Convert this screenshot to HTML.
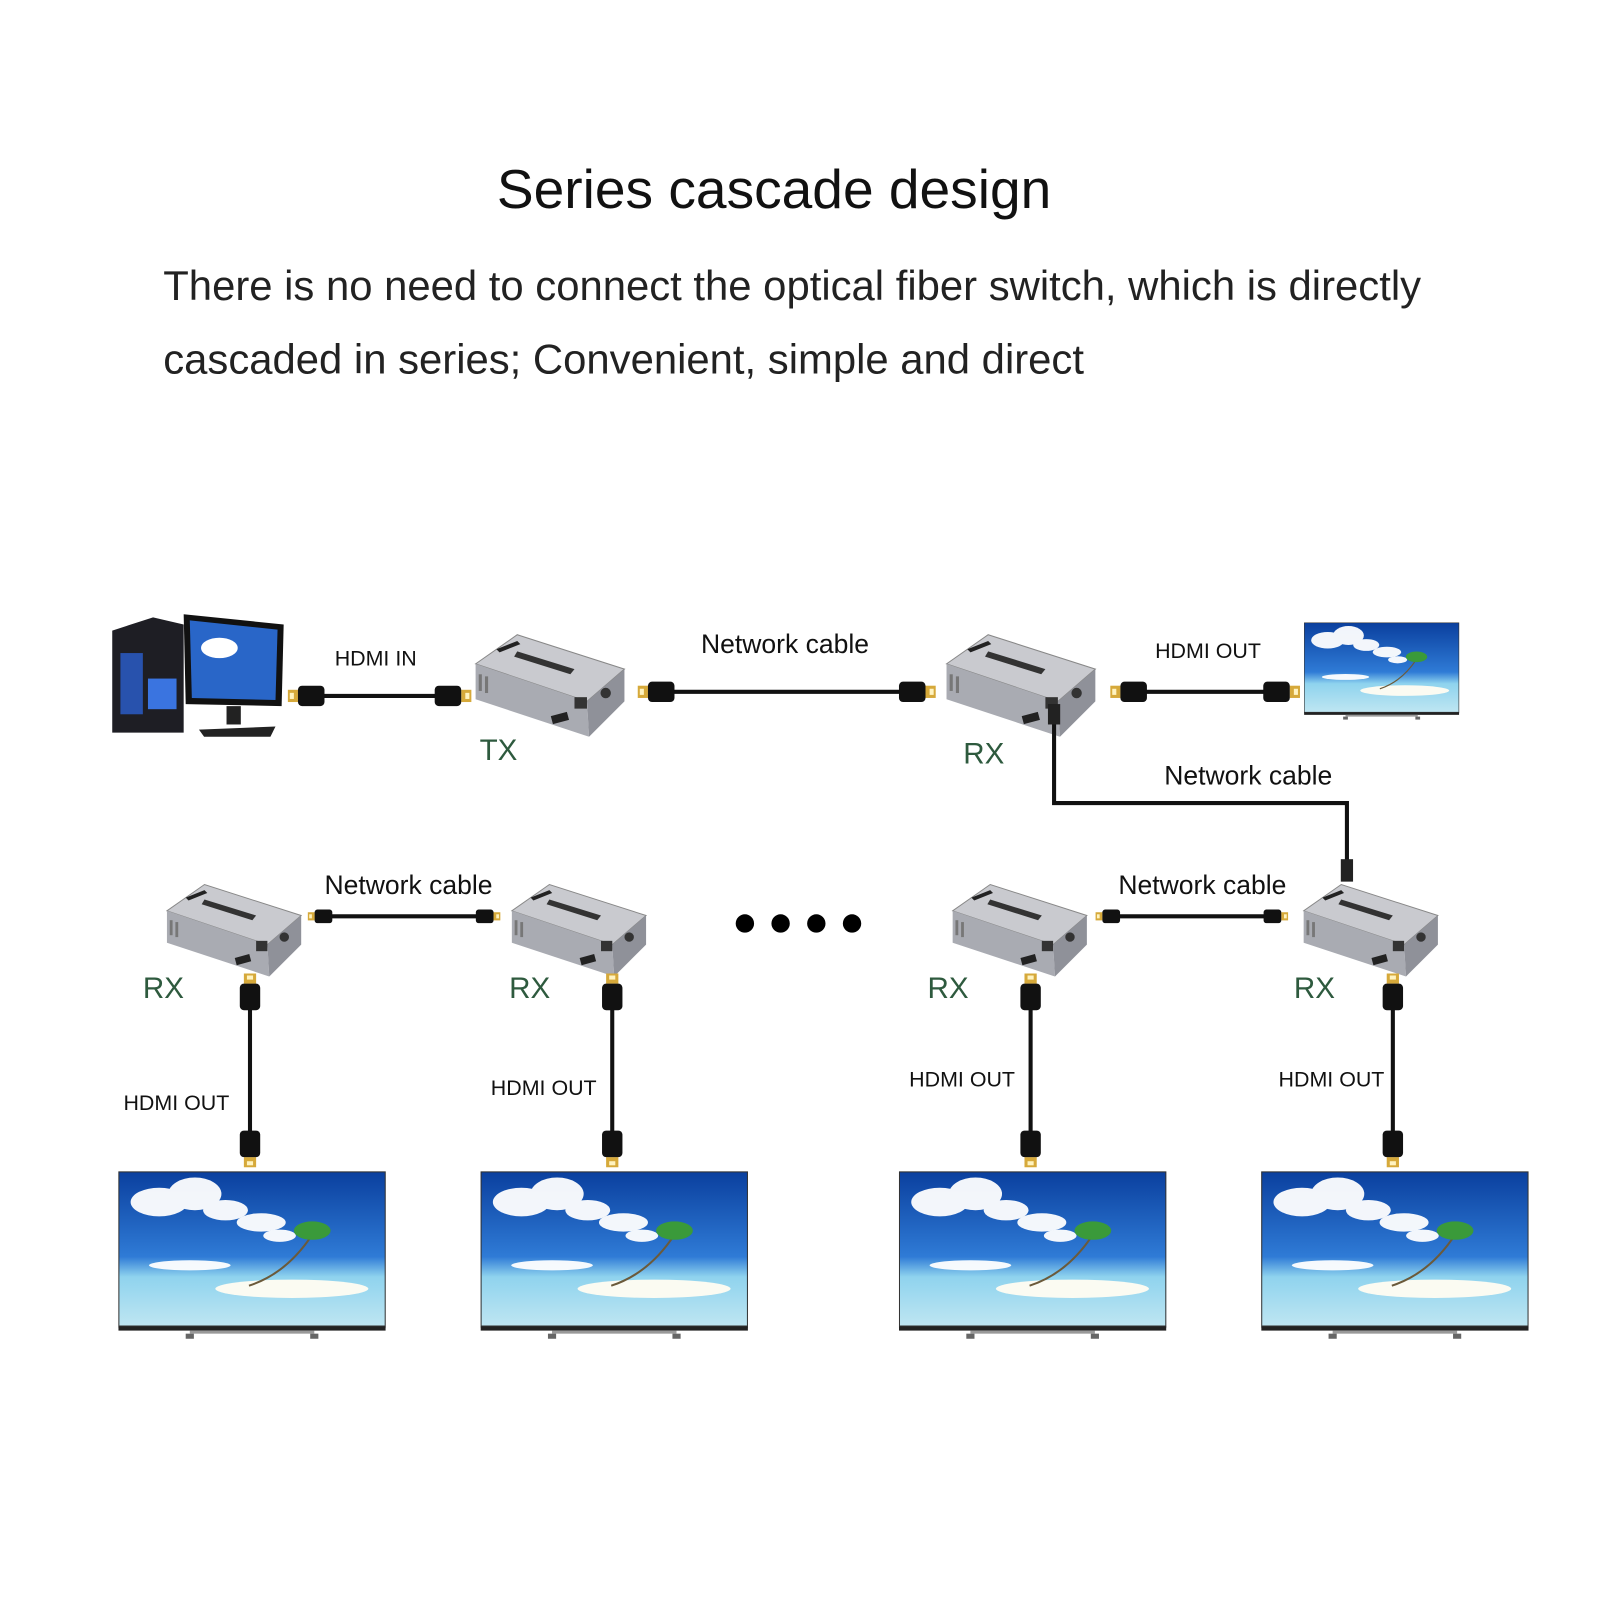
<!DOCTYPE html>
<html><head><meta charset="utf-8"><style>
html,body{margin:0;padding:0;background:#fff;}
svg{display:block;}
text{font-family:"Liberation Sans",sans-serif;}
</style></head><body>
<svg width="1600" height="1600" viewBox="0 0 1600 1600" xmlns="http://www.w3.org/2000/svg">
<defs>
<linearGradient id="sky" x1="0" y1="0" x2="0" y2="1">
<stop offset="0" stop-color="#0a3f9e"/><stop offset="0.55" stop-color="#2f7bd6"/><stop offset="0.68" stop-color="#8fd3ee"/><stop offset="1" stop-color="#bfe6f2"/>
</linearGradient>
<symbol id="tv" viewBox="0 0 262 167">
<rect x="0" y="0" width="262" height="152" fill="url(#sky)" stroke="#333" stroke-width="2"/>
<g fill="#fff" opacity="0.95">
<ellipse cx="40" cy="30" rx="28" ry="14"/><ellipse cx="75" cy="22" rx="26" ry="16"/><ellipse cx="105" cy="38" rx="22" ry="10"/><ellipse cx="140" cy="50" rx="24" ry="9"/><ellipse cx="158" cy="63" rx="16" ry="6"/><ellipse cx="70" cy="92" rx="40" ry="5"/>
</g>
<ellipse cx="170" cy="115" rx="75" ry="9" fill="#fbfbf2"/>
<path d="M128 112 Q165 100 190 62" stroke="#6b5a3a" stroke-width="2" fill="none"/>
<ellipse cx="190" cy="58" rx="18" ry="9" fill="#3a9a3a"/>
<rect x="0" y="152" width="262" height="4" fill="#222"/>
<rect x="70" y="156" width="122" height="3" fill="#999"/>
<rect x="66" y="159" width="8" height="5" fill="#666"/><rect x="188" y="159" width="8" height="5" fill="#666"/>
</symbol>
<symbol id="box" viewBox="0 0 150 100">
<polygon points="5,30 45,2 148,35 112,66" fill="#c9cacf" stroke="#888" stroke-width="1"/>
<polygon points="5,30 112,66 114,100 5,64" fill="#a9abb2"/>
<polygon points="112,66 148,35 148,66 114,100" fill="#8f9199"/>
<polygon points="45,18 100,35 96,40 42,23" fill="#333"/>
<polygon points="25,16 45,8 48,11 28,19" fill="#222"/>
<rect x="78" y="78" width="16" height="8" fill="#222" transform="rotate(-15 86 82)"/>
<rect x="100" y="62" width="12" height="11" fill="#333"/>
<circle cx="130" cy="58" r="5" fill="#333"/>
<rect x="8" y="40" width="3" height="16" fill="#777"/><rect x="14" y="42" width="3" height="16" fill="#777"/>
</symbol>
<symbol id="hdmi" viewBox="0 0 40 24">
<rect x="0" y="6" width="10" height="12" fill="#d6a93a"/><rect x="2" y="9" width="4" height="6" fill="#fff3c0"/>
<rect x="10" y="2" width="26" height="20" rx="4" fill="#111"/>
</symbol>
</defs>
<g transform="scale(1.0204)">
<text x="487" y="204" font-size="54" fill="#111">Series cascade design</text>
<text x="160" y="294" font-size="41" fill="#222">There is no need to connect the optical fiber switch, which is directly</text>
<text x="160" y="366" font-size="41" fill="#222">cascaded in series; Convenient, simple and direct</text>

<!-- PC -->
<polygon points="110,618 150,605 180,612 180,718 110,718" fill="#1e1e24"/>
<rect x="118" y="640" width="22" height="60" fill="#2b5fd0" opacity="0.8"/>
<rect x="145" y="665" width="28" height="30" fill="#3a74e0"/>
<polygon points="180,602 278,612 276,692 182,690" fill="#111"/>
<polygon points="186,608 272,617 270,686 188,684" fill="#2966c8"/>
<ellipse cx="215" cy="635" rx="18" ry="10" fill="#fff"/>
<rect x="222" y="692" width="14" height="18" fill="#222"/>
<polygon points="195,715 270,712 265,722 200,722" fill="#222"/>

<!-- HDMI IN -->
<line x1="315" y1="682" x2="430" y2="682" stroke="#111" stroke-width="4"/>
<use href="#hdmi" x="282" y="670" width="40" height="24"/>
<use href="#hdmi" x="422" y="670" width="40" height="24" transform="rotate(180 442 682)"/>
<text x="328" y="652" font-size="21" fill="#111">HDMI  IN</text>

<use href="#box" x="460" y="620" width="155" height="102"/>
<text x="470" y="745" font-size="29" fill="#2e5a3e">TX</text>

<line x1="650" y1="678" x2="890" y2="678" stroke="#111" stroke-width="4"/>
<use href="#hdmi" x="622" y="666" width="46" height="24"/>
<use href="#hdmi" x="874" y="666" width="46" height="24" transform="rotate(180 897 678)"/>
<text x="687" y="640" font-size="26" fill="#111">Network cable</text>

<use href="#box" x="920" y="620" width="158" height="102"/>
<text x="944" y="748" font-size="29" fill="#2e5a3e">RX</text>

<line x1="1110" y1="678" x2="1250" y2="678" stroke="#111" stroke-width="4"/>
<use href="#hdmi" x="1088" y="666" width="40" height="24"/>
<use href="#hdmi" x="1234" y="666" width="40" height="24" transform="rotate(180 1254 678)"/>
<text x="1132" y="645" font-size="21" fill="#111">HDMI OUT</text>
<use href="#tv" x="1278" y="610" width="152" height="97" preserveAspectRatio="none"/>

<polyline points="1033,695 1033,787 1320,787 1320,860" fill="none" stroke="#111" stroke-width="4"/>
<rect x="1027" y="690" width="12" height="20" fill="#222"/>
<rect x="1314" y="842" width="12" height="22" fill="#222"/>
<text x="1141" y="769" font-size="26" fill="#111">Network cable</text>

<use href="#box" x="158" y="865" width="140" height="92"/>
<use href="#box" x="496" y="865" width="140" height="92"/>
<use href="#box" x="928" y="865" width="140" height="92"/>
<use href="#box" x="1272" y="865" width="140" height="92"/>

<line x1="315" y1="898" x2="475" y2="898" stroke="#111" stroke-width="4"/>
<use href="#hdmi" x="300" y="890" width="30" height="16"/>
<use href="#hdmi" x="462" y="890" width="30" height="16" transform="rotate(180 477 898)"/>
<text x="318" y="876" font-size="26" fill="#111">Network cable</text>
<line x1="1088" y1="898" x2="1248" y2="898" stroke="#111" stroke-width="4"/>
<use href="#hdmi" x="1072" y="890" width="30" height="16"/>
<use href="#hdmi" x="1234" y="890" width="30" height="16" transform="rotate(180 1249 898)"/>
<text x="1096" y="876" font-size="26" fill="#111">Network cable</text>

<g fill="#000"><circle cx="730" cy="905" r="9"/><circle cx="765" cy="905" r="9"/><circle cx="800" cy="905" r="9"/><circle cx="835" cy="905" r="9"/></g>

<g font-size="29" fill="#2e5a3e">
<text x="140" y="978">RX</text><text x="499" y="978">RX</text><text x="909" y="978">RX</text><text x="1268" y="978">RX</text>
</g>

<g stroke="#111" stroke-width="4">
<line x1="245" y1="985" x2="245" y2="1110"/><line x1="600" y1="985" x2="600" y2="1110"/>
<line x1="1010" y1="985" x2="1010" y2="1110"/><line x1="1365" y1="985" x2="1365" y2="1110"/>
</g>
<g>
<use href="#hdmi" x="225" y="962" width="40" height="24" transform="rotate(90 245 974)"/>
<use href="#hdmi" x="225" y="1112" width="40" height="24" transform="rotate(-90 245 1124)"/>
<use href="#hdmi" x="580" y="962" width="40" height="24" transform="rotate(90 600 974)"/>
<use href="#hdmi" x="580" y="1112" width="40" height="24" transform="rotate(-90 600 1124)"/>
<use href="#hdmi" x="990" y="962" width="40" height="24" transform="rotate(90 1010 974)"/>
<use href="#hdmi" x="990" y="1112" width="40" height="24" transform="rotate(-90 1010 1124)"/>
<use href="#hdmi" x="1345" y="962" width="40" height="24" transform="rotate(90 1365 974)"/>
<use href="#hdmi" x="1345" y="1112" width="40" height="24" transform="rotate(-90 1365 1124)"/>
</g>
<g font-size="21" fill="#111">
<text x="121" y="1088">HDMI OUT</text><text x="481" y="1073">HDMI OUT</text>
<text x="891" y="1065">HDMI OUT</text><text x="1253" y="1065">HDMI OUT</text>
</g>

<use href="#tv" x="116" y="1148" width="262" height="167"/>
<use href="#tv" x="471" y="1148" width="262" height="167"/>
<use href="#tv" x="881" y="1148" width="262" height="167"/>
<use href="#tv" x="1236" y="1148" width="262" height="167"/>
</g>
</svg>
</body></html>
